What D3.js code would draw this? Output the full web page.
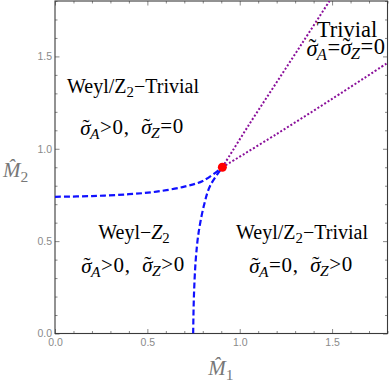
<!DOCTYPE html>
<html>
<head>
<meta charset="utf-8">
<script src="https://cdn.jsdelivr.net/npm/d3@7"></script>
<style>
body { margin: 0; background: #fff; }
text { white-space: pre; }
</style>
</head>
<body>
<svg id="chart" width="390" height="382"></svg>
<script>

// phase boundaries (M1, M2)
var lowerM1 = [0.0, 0.2, 0.4, 0.55, 0.7, 0.8, 0.906];
var lowerM2 = [0.740, 0.744, 0.754, 0.768, 0.795, 0.826, 0.90];
var leftM1 = [0.748, 0.752, 0.762, 0.778, 0.808, 0.84, 0.906];
var leftM2 = [0.0, 0.2, 0.4, 0.55, 0.7, 0.8, 0.90];
var steepM1 = [0.906, 1.05, 1.2, 1.35, 1.486];
var steepM2 = [0.90, 1.13, 1.36, 1.59, 1.8];
var flatM1 = [0.906, 1.2, 1.5, 1.8];
var flatM2 = [0.90, 1.08, 1.27, 1.465];
var criticalPoint = [0.906, 0.90];

var majorTicks = [0, 0.5, 1.0, 1.5];
var tickLabels = ["0.0", "0.5", "1.0", "1.5"];

var svg = d3.select("#chart");

var x = d3.scaleLinear().domain([0, 1.8]).range([55, 387.5]);
var y = d3.scaleLinear().domain([0, 1.8]).range([333.5, 1]);

var minor = d3.range(0, 1.81, 0.1).filter(function(v){
	return Math.abs(v*2 - Math.round(v*2)) > 1e-6;
});

//draw the ticks (inside the frame) on all four sides
function ticks(axisFn, scale, pos, values, size, labels){
	var g = svg.append("g")
		.attr("transform", pos)
		.call(axisFn(scale)
			.tickValues(values)
			.tickSizeInner(-size)
			.tickSizeOuter(0)
			.tickPadding(axisFn == d3.axisLeft ? 3 : 5)
			.tickFormat(function(d, i){ return labels ? labels[i] : ""; }));
	g.select(".domain").remove();
	g.selectAll("line").attr("stroke", "#888");
	g.selectAll("text")
		.attr("fill", "#8a8a8a")
		.attr("font-family", "Liberation Sans, Arial, sans-serif")
		.attr("font-size", "10.5px");
	return g;
}

ticks(d3.axisBottom, x, "translate(0," + y(0) + ")", majorTicks, 4.5, tickLabels);
ticks(d3.axisBottom, x, "translate(0," + y(0) + ")", minor, 2.5);
ticks(d3.axisLeft, y, "translate(" + x(0) + ",0)", majorTicks, 4.5, tickLabels);
ticks(d3.axisLeft, y, "translate(" + x(0) + ",0)", minor, 2.5);
ticks(d3.axisTop, x, "translate(0," + y(1.8) + ")", majorTicks, 4.5);
ticks(d3.axisTop, x, "translate(0," + y(1.8) + ")", minor, 2.5);
ticks(d3.axisRight, y, "translate(" + x(1.8) + ",0)", majorTicks, 4.5);
ticks(d3.axisRight, y, "translate(" + x(1.8) + ",0)", minor, 2.5);

//frame
svg.append("rect")
	.attr("x", x(0))
	.attr("y", y(1.8))
	.attr("width", x(1.8) - x(0))
	.attr("height", y(0) - y(1.8))
	.attr("fill", "none")
	.attr("stroke", "#3a3a3a")
	.attr("stroke-width", 1.1);

svg.append("clipPath").attr("id", "clip")
	.append("rect")
	.attr("x", x(0)).attr("y", y(1.8))
	.attr("width", x(1.8) - x(0)).attr("height", y(0) - y(1.8));

var plot = svg.append("g").attr("clip-path", "url(#clip)");

var line = d3.line()
	.x(function(d){ return x(d[0]); })
	.y(function(d){ return y(d[1]); })
	.curve(d3.curveCatmullRom.alpha(0.5));

function pairs(a, b){ return a.map(function(v, i){ return [v, b[i]]; }); }

//purple dotted boundaries
plot.append("path")
	.attr("d", line(pairs(steepM1, steepM2)))
	.attr("fill", "none").attr("stroke", "#8a0f9a")
	.attr("stroke-width", 2).attr("stroke-dasharray", "2,2");
plot.append("path")
	.attr("d", line(pairs(flatM1, flatM2)))
	.attr("fill", "none").attr("stroke", "#8a0f9a")
	.attr("stroke-width", 2).attr("stroke-dasharray", "2,2");

//blue dashed boundaries
plot.append("path")
	.attr("d", line(pairs(lowerM1, lowerM2)))
	.attr("fill", "none").attr("stroke", "#1010ff")
	.attr("stroke-width", 2.2).attr("stroke-dasharray", "6,3");
plot.append("path")
	.attr("d", line(pairs(leftM1, leftM2)))
	.attr("fill", "none").attr("stroke", "#1010ff")
	.attr("stroke-width", 2.2).attr("stroke-dasharray", "6,3");

plot.append("circle")
	.attr("cx", x(criticalPoint[0]))
	.attr("cy", y(criticalPoint[1]))
	.attr("r", 4.5)
	.attr("fill", "#ff0000");

//text with subscripts: segs = [text, kind], kind "" | "i" (italic) | "s" (subscript) | "t" (tilde-sigma)
function label(px, py, segs, size, color, anchor, spacing){
	var t = svg.append("text")
		.attr("x", px).attr("y", py)
		.attr("text-anchor", anchor || "middle")
		.attr("font-family", "Liberation Serif, Times New Roman, serif")
		.attr("font-size", size + "px")
		.attr("letter-spacing", spacing || 0)
		.attr("fill", color || "#000");
	var shift = 0;
	segs.forEach(function(s){
		var kind = s[1] || "";
		if (kind == "t") {
			//sigma with a tilde put over it by hand
			var dy0 = -shift;
			shift = 0;
			t.append("tspan").text("\u03c3").attr("font-style", "italic").attr("dy", dy0);
			t.append("tspan").text("\u02dc").attr("dx", "-0.42em").attr("dy", "-0.05em");
			t.append("tspan").text("").attr("dx", "0.09em").attr("dy", "0.05em");
			return;
		}
		var sub = kind.indexOf("s") >= 0;
		var target = sub ? size*0.22 : 0;
		var ts = t.append("tspan").text(s[0]).attr("dy", target - shift);
		shift = target;
		if (sub) ts.attr("font-size", (size*0.74) + "px");
		if (kind.indexOf("i") >= 0) ts.attr("font-style", "italic");
	});
	return t;
}

var sig = ["\u03c3", "t"];

label(133, 93, [["Weyl/Z"], ["2", "s"], ["\u2212Trivial"]], 20);
label(132, 135, [sig, ["A", "si"], [">0,  "], sig, ["Z", "si"], ["=0"]], 21, null, null, 0.6);

label(134, 239, [["Weyl\u2212"], ["Z", "i"], ["2", "s"]], 20);
label(133, 273, [sig, ["A", "si"], [">0,  "], sig, ["Z", "si"], [">0"]], 21, null, null, 0.6);

label(302, 239, [["Weyl/Z"], ["2", "s"], ["\u2212Trivial"]], 20);
label(301, 273, [sig, ["A", "si"], ["=0,  "], sig, ["Z", "si"], [">0"]], 21, null, null, 0.6);

label(347, 37, [["Trivial"]], 22.5);
label(346, 56, [sig, ["A", "si"], ["="], sig, ["Z", "si"], ["=0"]], 22.5, null, null, 0.5);

//axis titles
label(221, 375, [["M\u0302", "i"], ["1", "s"]], 21, "#777");
label(3, 177, [["M\u0302", "i"], ["2", "s"]], 21, "#777", "start");

</script>
</body>
</html>
